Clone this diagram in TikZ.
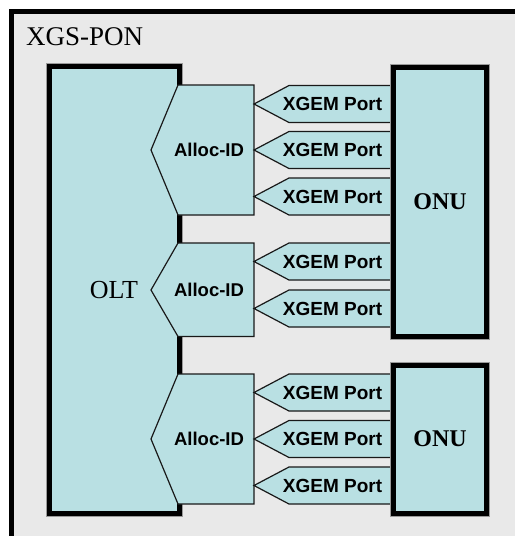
\documentclass[tikz,border=0pt]{standalone}
\usepackage{fontspec}
\setmainfont{Liberation Serif}
\newfontfamily\arialf{Liberation Sans}
\definecolor{bggray}{HTML}{E9E9E9}
\definecolor{boxcyan}{HTML}{B9E0E3}
\definecolor{halo}{HTML}{9A9A9A}
\tikzset{
  thickbox/.style={draw=black, line width=5pt, fill=boxcyan},
  halobox/.style={draw=halo, line width=6.6pt},
  thinshape/.style={draw=black!90, line width=1.2pt, fill=boxcyan, line join=miter},
  porttext/.style={font=\arialf\bfseries\fontsize{19}{21}\selectfont, inner sep=0pt},
  alloctext/.style={font=\arialf\bfseries\fontsize{18.5}{20}\selectfont, inner sep=0pt},
  titletext/.style={font=\fontsize{27}{29}\selectfont, inner sep=0pt},
  olttext/.style={font=\fontsize{26}{28}\selectfont, inner sep=0pt},
  onutext/.style={font=\bfseries\fontsize{24}{26}\selectfont, inner sep=0pt},
}
\newcommand\xgemport[2]{%
  \draw[thinshape] (254,#2) -- (289,#2-18.5) -- (392,#2-18.5) -- (392,#2+18.5) -- (289,#2+18.5) -- cycle;
  \node[porttext] (#1) at (332.5,#2) {XGEM Port};}
\newcommand\allocshape[4]{%
  \draw[thinshape] (178,#2) -- (254,#2) -- (254,#3) -- (178,#3) -- (151,#4) -- cycle;
  \node[alloctext] (#1) at (209,#4) {Alloc-ID};}
\begin{document}
\begin{tikzpicture}[x=1pt,y=-1pt]
\useasboundingbox (0,0) rectangle (515,536);
\fill[bggray] (11.5,11.5) rectangle (515,536);
\draw[line width=5pt] (11.5,536) -- (11.5,11.5) -- (515,11.5);
\node[titletext, anchor=base west] (title) at (26,45) {XGS-PON};
% OLT
\draw[halobox] (49.5,66.5) rectangle (179.5,513.5);
\draw[thickbox] (49.5,66.5) rectangle (179.5,513.5);
\node[olttext] (olt) at (114,290) {OLT};
% Alloc-IDs
\allocshape{a1}{85}{215}{150}
\allocshape{a2}{243}{336.5}{290}
\allocshape{a3}{374}{504}{439}
% XGEM ports
\xgemport{p1}{104}
\xgemport{p2}{150}
\xgemport{p3}{196.5}
\xgemport{p4}{261.5}
\xgemport{p5}{308.5}
\xgemport{p6}{392.5}
\xgemport{p7}{439}
\xgemport{p8}{485.5}
% ONUs
\draw[halobox] (393.5,67.5) rectangle (486.5,336.5);
\draw[thickbox] (393.5,67.5) rectangle (486.5,336.5);
\node[onutext] (onu1) at (440,202) {ONU};
\draw[halobox] (393.5,365.5) rectangle (486.5,513.5);
\draw[thickbox] (393.5,365.5) rectangle (486.5,513.5);
\node[onutext] (onu2) at (440,439) {ONU};
\end{tikzpicture}
\end{document}
